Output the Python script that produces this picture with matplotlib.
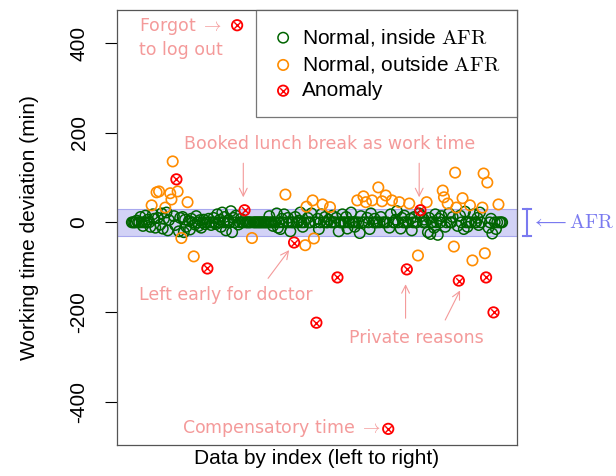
import numpy as np
import matplotlib
matplotlib.use('Agg')
from matplotlib import pyplot as plt
from matplotlib.legend_handler import HandlerTuple
import matplotlib.transforms as mtransforms

# deviation (min) for every index, left to right
deviation = [
    0, 0, 0, 0, 4, 0, 0, 12, 0, -8, 0, 15, 0, 6, 0, -10, 38, 18, 8, -12,
    67, 10, 69, -5, 20, -14, 8, 33, 22, -18, 5, 65, 51, 136, 14, -6, 96, 69, -20, 10,
    -35, 12, -22, 6, -10, 45, 3, -16, 8, 0, -76, -5, 14, 0, -8, 5, -12, 0, 6, -4,
    0, -103, 8, 0, -6, 0, 10, 0, -4, 18, 0, 6, -10, 22, 0, 12, -18, 0, 5, 0,
    25, -22, 10, 0, 15, 440, -5, 0, 8, 0, 0, 27, 0, 0, 0, 0, 0, -35, 0, 0,
    0, 0, 0, 0, 0, 0, 0, 0, 0, 0, 0, 14, 0, 0, -8, 0, 0, 20, -12, 0,
    -15, 8, 0, 18, 62, 0, 10, 0, -20, 0, 0, -45, 12, 0, 0, 4, 22, 0, -10, 0,
    -51, 35, 10, 0, 0, 20, 49, -36, 0, -224, 8, -15, 0, 18, 40, 0, 12, 0, 0, 6,
    34, 0, 15, 0, 0, 10, -123, -20, 0, 0, 18, 0, 0, 12, -14, 0, 0, 22, 0, 0,
    -10, 0, 49, 0, -24, 14, 0, 58, 0, 45, 10, 0, -15, 20, 49, 0, 8, 0, 0, 78,
    0, 12, 47, 0, 0, 60, 0, -461, -12, 18, 49, 0, 0, 6, 25, 0, 45, -14, 10, 0,
    15, 0, -105, 0, 42, 8, -18, 0, 12, 0, 0, -74, 20, 27, 14, 0, 6, 0, 45, -22,
    10, -26, 0, 0, -12, 18, 0, -28, 8, 0, 14, 71, 56, -10, 0, 42, 20, 0, 0, 12,
    -54, 111, 33, -8, -130, 15, 0, 54, -15, 24, 0, -10, 0, 38, 0, -85, 18, 0, 0, 10,
    -6, 22, 0, 33, 109, -69, -123, 89, -12, 0, 8, -25, -201, 0, -15, 0, 40, 0, 0, 0,
]
# indices (1-based) of the anomalies
anomaly_index = [37, 62, 86, 92, 132, 150, 167, 208, 223, 234, 265, 287, 293]
afr = 30

dev = np.array(deviation, dtype=float)
idx = np.arange(1, len(dev) + 1)
is_anom = np.isin(idx, anomaly_index)
is_out = (np.abs(dev) > afr) & ~is_anom
is_in = (np.abs(dev) <= afr) & ~is_anom

plt.rcParams['font.family'] = ['Liberation Sans', 'DejaVu Sans']
plt.rcParams['mathtext.fontset'] = 'cm'
plt.rcParams['axes.unicode_minus'] = False
plt.rcParams['font.size'] = 15

fig = plt.figure(figsize=(6.16, 4.76), dpi=100)
ax = fig.add_axes([117/616, 31/476, 400/616, 435/476])

n = len(dev)
ax.set_xlim(1 - 0.04*(n-1), n + 0.04*(n-1))
ax.set_ylim(-497, 474)

# AFR band
ax.axhspan(-afr, afr, facecolor='#d2d2f6', edgecolor='#a8a8ee', lw=0.8, zorder=0)

ms = 56
g = ax.scatter(idx[is_in], dev[is_in], s=ms, facecolors='none', edgecolors='darkgreen', linewidths=1.1, zorder=2)
o = ax.scatter(idx[is_out], dev[is_out], s=ms, facecolors='none', edgecolors='darkorange', linewidths=1.2, zorder=3)
r1 = ax.scatter(idx[is_anom], dev[is_anom], s=ms, facecolors='none', edgecolors='red', linewidths=1.3, zorder=4)
r2 = ax.scatter(idx[is_anom], dev[is_anom], s=22, marker='x', color='red', linewidths=1.0, zorder=4)

pink = '#f49a9a'
ap = dict(arrowstyle='->', color=pink, lw=0.8, shrinkA=0, shrinkB=0, mutation_scale=14)
tk = dict(color=pink, fontsize=12.5, family='DejaVu Sans')

ax.text(7, 460, 'Forgot $\\rightarrow$\nto log out', ha='left', va='top', linespacing=1.3, **tk)
ax.text(161, 176, 'Booked lunch break as work time', ha='center', va='center', **tk)
ax.annotate('', xy=(91, 56), xytext=(91, 132), arrowprops=ap)
ax.annotate('', xy=(233, 56), xytext=(233, 132), arrowprops=ap)
ax.text(77, -163, 'Left early for doctor', ha='center', va='center', **tk)
ax.annotate('', xy=(128, -62), xytext=(111, -125), arrowprops=ap)
ax.text(231, -259, 'Private reasons', ha='center', va='center', **tk)
ax.annotate('', xy=(222, -138), xytext=(222, -214), arrowprops=ap)
ax.annotate('', xy=(266, -152), xytext=(254, -218), arrowprops=ap)
ax.text(202, -460, 'Compensatory time $\\rightarrow$', ha='right', va='center', **tk)

# AFR marker outside the box
blue = '#7a7af0'
tr = mtransforms.blended_transform_factory(ax.transAxes, ax.transData)
ax.plot([1.025, 1.025], [-afr, afr], color=blue, lw=1.5, transform=tr, clip_on=False)
ax.plot([1.015, 1.035], [afr, afr], color=blue, lw=1.5, transform=tr, clip_on=False)
ax.plot([1.015, 1.035], [-afr, -afr], color=blue, lw=1.5, transform=tr, clip_on=False)
ax.text(1.036, 0, '$\\longleftarrow\\mathrm{AFR}$', color=blue, fontsize=14.5, transform=tr,
        ha='left', va='center', clip_on=False)

ax.set_xticks([])
ax.set_yticks([-400, -200, 0, 200, 400])
ax.tick_params(axis='y', length=8.5, width=0.8, pad=12, labelsize=15, labelrotation=90)
for lab in ax.get_yticklabels():
    lab.set_va('center')
for s in ax.spines.values():
    s.set_color('#555555')
    s.set_linewidth(0.9)

ax.set_xlabel('Data by index (left to right)', fontsize=15, labelpad=3)
ax.set_ylabel('Working time deviation (min)', fontsize=15)
ax.yaxis.set_label_coords(-0.195, 0.5)

leg = ax.legend([g, o, (r1, r2)],
                ['Normal, inside $\\mathrm{AFR}$', 'Normal, outside $\\mathrm{AFR}$', 'Anomaly'],
                handler_map={tuple: HandlerTuple(ndivide=1)},
                loc='upper right', borderaxespad=0, fancybox=False, fontsize=15,
                handletextpad=0.4, handlelength=1.0, labelspacing=0.3, borderpad=0.8)
leg.get_frame().set_edgecolor('#555555')
leg.get_frame().set_linewidth(0.9)

fig.savefig('out.png', dpi=100)
